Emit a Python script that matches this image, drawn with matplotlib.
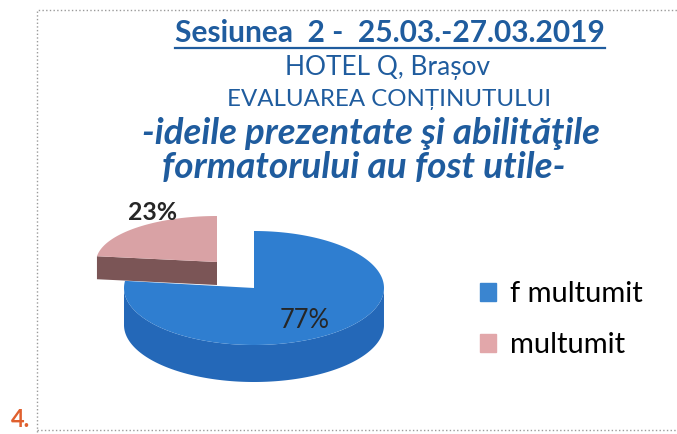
import numpy as np
import matplotlib
matplotlib.use("Agg")
import matplotlib.pyplot as plt
from matplotlib.patches import Polygon, Patch

# datos del grafico
categorias = ["f multumit", "multumit"]
procentaje = [77, 23]
etichete = ["77%", "23%"]

titlu = "Sesiunea  2 -  25.03.-27.03.2019"
rand2 = "HOTEL Q, Brașov"
rand3 = "EVALUAREA CONȚINUTULUI"
rand4 = "-ideile prezentate şi abilităţile"
rand5 = "formatorului au fost utile-"

culori_sus = ["#2f7ed0", "#d9a2a5"]
culori_lat = ["#2468b8", "#7b5556"]
culori_leg = ["#3a85d0", "#e2a7aa"]
albastru_text = "#1f5c9e"
font = ["Lato", "DejaVu Sans"]

fig = plt.figure(figsize=(6.77, 4.34), dpi=100)
ax = fig.add_axes([0, 0, 1, 1])
ax.set_xlim(0, 677)
ax.set_ylim(434, 0)
ax.axis("off")

# chenar punctat
ax.plot([37, 37, 677], [432, 10, 10], color="#9a9a9a", lw=1, ls=":")
ax.plot([37, 677], [430, 430], color="#9a9a9a", lw=1, ls=":")
ax.text(11, 431, "4.", color="#e0602e", fontsize=17, fontweight="bold",
        family=font, va="bottom")


def felie(cx, cy, a, b, h, t0, t1, c_sus, c_lat):
    t = np.radians(np.linspace(t0, t1, 300))
    xs = cx + a * np.cos(t)
    ys = cy - b * np.sin(t)
    # partea laterala din fata
    fata = np.sin(t) < 0
    if fata.any():
        px = xs[fata]
        py = ys[fata]
        pts = np.column_stack([np.r_[px, px[::-1]], np.r_[py, py[::-1] + h]])
        ax.add_patch(Polygon(pts, closed=True, fc=c_lat, ec="none"))
    # fetele taiate
    for th, capat in [(t0, False), (t1, True)]:
        r = np.radians(th)
        vizibil = np.cos(r) < -1e-6 if capat else np.cos(r) > 1e-6
        if vizibil:
            rx = cx + a * np.cos(r)
            ry = cy - b * np.sin(r)
            pts = [(cx, cy), (rx, ry), (rx, ry + h), (cx, cy + h)]
            ax.add_patch(Polygon(pts, closed=True, fc=c_lat, ec="none"))
    pts = np.column_stack([np.r_[cx, xs], np.r_[cy, ys]])
    ax.add_patch(Polygon(pts, closed=True, fc=c_sus, ec="none"))


start = 90.0
capat_roz = start + procentaje[1] / sum(procentaje) * 360
# felia roz (explodata, in spate)
felie(217, 262, 121, 46, 23, start, capat_roz, culori_sus[1], culori_lat[1])
# felia albastra
felie(254, 288, 130, 57, 37, capat_roz, start + 360, culori_sus[0], culori_lat[0])


def text_lat(x0, x1, y, s, **kw):
    # potriveste marimea fontului la latimea din imagine
    tx = ax.text((x0 + x1) / 2, y, s, ha="center", va="center", family=font, **kw)
    fig.canvas.draw()
    bb = tx.get_window_extent().transformed(ax.transData.inverted())
    tx.set_fontsize(tx.get_fontsize() * (x1 - x0) / (bb.x1 - bb.x0))
    return tx


text_lat(128, 177, 212, etichete[1], fontsize=19, fontweight="bold", color="#262626")
text_lat(280, 330, 320, etichete[0], fontsize=19, color="#262626")

t = text_lat(175, 605, 33, titlu, fontsize=20, fontweight="bold", color=albastru_text)
text_lat(285, 490, 68, rand2, fontsize=18, color=albastru_text)
text_lat(228, 550, 100, rand3, fontsize=18, color=albastru_text)
text_lat(143, 600, 133, rand4, fontsize=20, fontweight="bold", fontstyle="italic",
         color=albastru_text)
text_lat(163, 565, 167, rand5, fontsize=20, fontweight="bold", fontstyle="italic",
         color=albastru_text)

# subliniere titlu
fig.canvas.draw()
bb = t.get_window_extent().transformed(ax.transData.inverted())
ax.plot([bb.x0, bb.x1], [bb.y0 + 1, bb.y0 + 1], color=albastru_text, lw=1.6)

# legenda
handles = [Patch(color=c) for c in culori_leg]
ax.legend(handles, categorias, loc="upper left", bbox_to_anchor=(0.67, 0.412),
          frameon=False, handlelength=0.55, handleheight=0.55, handletextpad=0.5,
          labelspacing=0.85, prop={"family": font, "size": 21})

plt.savefig("out.png", dpi=100)
